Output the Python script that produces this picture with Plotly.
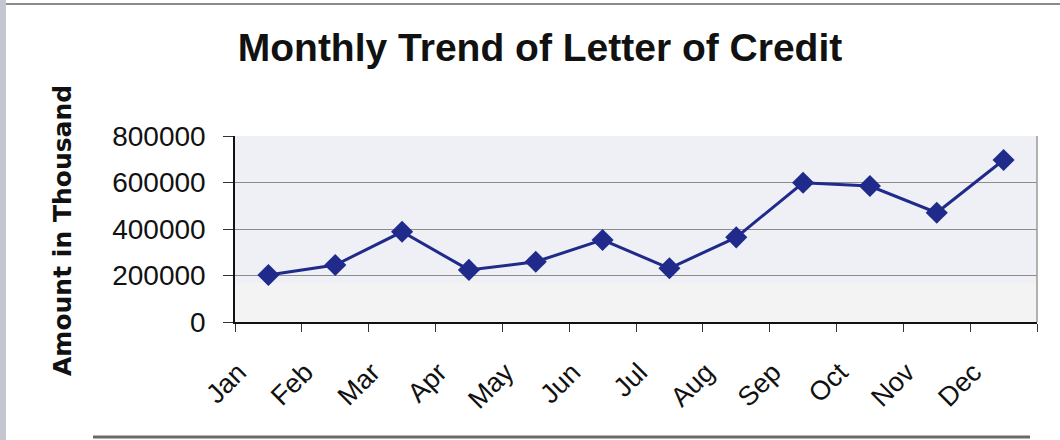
import plotly.graph_objects as go

months = ["Jan", "Feb", "Mar", "Apr", "May", "Jun", "Jul", "Aug", "Sep", "Oct", "Nov", "Dec"]
amounts = [202000, 245000, 388000, 224000, 259000, 353000, 231000, 364000, 599000, 585000, 470000, 697000]
y_ticks = [0, 200000, 400000, 600000, 800000]
y_tick_labels = ["0", "200000", "400000", "600000", "800000"]

line_color = "#1f2a8a"

fig = go.Figure()
fig.add_trace(go.Scatter(
    x=months, y=amounts, mode="lines+markers",
    line=dict(color=line_color, width=3),
    marker=dict(symbol="diamond", size=17, color=line_color),
    showlegend=False, hoverinfo="x+y",
))

fig.update_layout(
    width=1060, height=440,
    margin=dict(l=235, r=23, t=136, b=118, autoexpand=False),
    paper_bgcolor="white",
    plot_bgcolor="#eef0f5",
    title=dict(text="<b>Monthly Trend of Letter of Credit</b>", x=540 / 1060, xref="container",
               y=1 - 47 / 440, yref="container", xanchor="center", yanchor="middle",
               font=dict(family="Arial, Liberation Sans", size=39, color="#111")),
    font=dict(family="Arial, Liberation Sans", color="#111"),
    xaxis=dict(
        type="category", range=[-0.5, 11.5], tickson="boundaries", automargin=False,
        showgrid=False, showline=True, linecolor="#111", linewidth=1.5,
        ticks="outside", ticklen=8, tickcolor="#333", tickwidth=1,
        tickangle=-45, tickfont=dict(size=27, color="#111"),
        ticklabelshift=-30, ticklabelstandoff=22,
        zeroline=False,
    ),
    yaxis=dict(
        range=[0, 800000], tickvals=y_ticks, ticktext=y_tick_labels, automargin=False,
        showgrid=True, gridcolor="#8c8c8c", gridwidth=1,
        showline=True, linecolor="#111", linewidth=1.5,
        ticks="outside", ticklen=10, tickcolor="#333", tickwidth=1,
        tickfont=dict(size=28, color="#111"), ticklabelstandoff=12,
        zeroline=False,
    ),
    annotations=[dict(
        text="<b>Amount in Thousand</b>", textangle=-90,
        xref="paper", yref="paper", x=(62 - 235) / 802, y=(322 - 231) / 186,
        xanchor="center", yanchor="middle", showarrow=False,
        font=dict(family="DejaVu Sans, Verdana", size=25, color="#111"),
    )],
    shapes=[
        dict(type="rect", xref="paper", yref="y", x0=0, x1=1, y0=0, y1=168000,
             fillcolor="#f3f3f4", line=dict(width=0), layer="below"),
        dict(type="line", xref="paper", yref="paper", x0=1, x1=1, y0=0, y1=1,
             line=dict(color="#9a9a9a", width=1.5)),
        dict(type="line", xref="paper", yref="paper", x0=-235 / 802, x1=(1060 - 235) / 802,
             y0=(322 - 4) / 186, y1=(322 - 4) / 186, line=dict(color="#8a8a8a", width=2)),
        dict(type="line", xref="paper", yref="paper", x0=(93 - 235) / 802, x1=(1030 - 235) / 802,
             y0=(322 - 437) / 186, y1=(322 - 437) / 186, line=dict(color="#6a6a6a", width=3)),
        dict(type="rect", xref="paper", yref="paper", x0=-235 / 802, x1=(6 - 235) / 802,
             y0=(322 - 440) / 186, y1=322 / 186, fillcolor="#c4c7d0", line=dict(width=0)),
    ],
)

fig.write_html("out.html", config={"displayModeBar": False},
               post_script="document.body.style.margin='0';")
